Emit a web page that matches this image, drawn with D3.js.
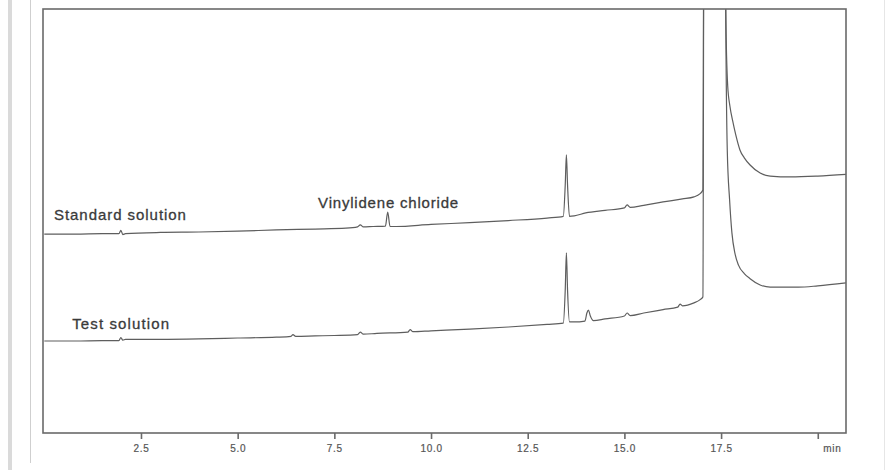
<!DOCTYPE html>
<html>
<head>
<meta charset="utf-8">
<script src="https://cdn.jsdelivr.net/npm/d3@7"></script>
<style>
  html, body { margin: 0; padding: 0; background: #fff; }
  #chart { width: 887px; height: 470px; }
  svg { display: block; }
  .trace { fill: none; stroke: #5e5e5e; stroke-width: 1.2; stroke-linejoin: round; }
  .frame { fill: none; stroke: #6a6a6a; stroke-width: 1.6; }
  .label { font-family: "Liberation Sans", Arial, Helvetica, sans-serif; font-size: 15px; fill: #3a3a3a; stroke: #3a3a3a; stroke-width: 0.3; }
  .axis text { font-family: "Liberation Sans", Arial, Helvetica, sans-serif; font-size: 10px; fill: #555; stroke: #555; stroke-width: 0.2; letter-spacing: 0.7px; }
  .axis line { stroke: #6a6a6a; stroke-width: 1.6; }
</style>
</head>
<body>
<div id="chart"></div>
<script>
// Chromatogram: standard vs test solution (time in min, detector signal in arbitrary units)

var tickValues = [2.5, 5.0, 7.5, 10.0, 12.5, 15.0, 17.5, 20.0];

var standardTime = [0, 0.8, 1.5, 1.93, 1.98, 2.03, 2.1, 3.0, 4.0, 5.0, 6.0, 7.0, 7.8, 8.1, 8.17, 8.25,
    8.5, 8.82, 8.88, 8.94, 9.1, 10.0, 11.0, 12.0, 13.0, 13.42, 13.47, 13.5, 13.53, 13.58, 13.7,
    14.0, 14.5, 15.0, 15.07, 15.15, 15.5, 16.0, 16.5, 16.8, 16.95, 17.03, 17.06, 17.6, 17.62,
    17.67, 17.73, 17.8, 17.88, 17.99, 18.1, 18.25, 18.51, 18.77, 19.3, 20.0, 20.73];
var standardSignal = [46.9, 46.9, 47.0, 47.0, 47.8, 46.8, 47.0, 47.3, 47.4, 47.6, 47.9, 48.1, 48.3, 48.6, 49.1, 48.6,
    48.7, 48.8, 52.1, 48.7, 48.7, 49.2, 49.6, 50.1, 50.7, 51.1, 58.5, 65.6, 58.5, 51.1, 51.2,
    51.9, 52.5, 53.1, 53.8, 53.2, 53.7, 54.5, 55.2, 55.7, 56.4, 57.3, 140, 140, 100,
    82.0, 77.0, 73.6, 70.3, 66.7, 64.9, 63.2, 61.3, 60.6, 60.4, 60.6, 61.0];

var testTime = [0, 0.8, 1.5, 1.93, 1.98, 2.03, 2.1, 3.0, 4.0, 5.0, 6.0, 6.38, 6.43, 6.5, 7.0, 7.5,
    8.1, 8.17, 8.25, 8.6, 9.4, 9.46, 9.53, 10.0, 11.0, 12.0, 13.0, 13.42, 13.47, 13.5, 13.53,
    13.58, 13.7, 13.98, 14.03, 14.07, 14.12, 14.2, 14.5, 15.0, 15.07, 15.15, 15.5, 16.0, 16.38,
    16.44, 16.5, 16.8, 16.95, 17.03, 17.06, 17.6, 17.62, 17.66, 17.72, 17.78, 17.86, 17.95,
    18.1, 18.25, 18.51, 18.77, 19.5, 20.0, 20.73];
var testSignal = [21.7, 21.7, 21.8, 21.8, 22.5, 21.9, 22.1, 22.1, 22.2, 22.4, 22.6, 22.8, 23.2, 22.8, 22.9, 23.0,
    23.2, 23.8, 23.3, 23.5, 23.8, 24.4, 23.9, 24.1, 24.5, 25.0, 25.6, 25.9, 33.7, 42.5, 33.7,
    26.2, 26.2, 26.4, 28.3, 29.0, 27.6, 26.5, 26.9, 27.6, 28.3, 27.7, 28.3, 29.1, 29.7,
    30.4, 30.0, 30.7, 31.4, 32.1, 140, 140, 100, 66.7, 55.0, 47.2, 42.3, 39.6,
    37.6, 36.4, 34.9, 34.4, 34.4, 34.7, 35.4];

var labels = [
    { text: 'Standard solution', t: 0.25, v: 50.3, len: 132 },
    { text: 'Vinylidene chloride', t: 7.08, v: 53.0, len: 140 },
    { text: 'Test solution', t: 0.72, v: 24.6, len: 97 }
];

(function() {
    'use strict';

    var width = 887, height = 470;
    var frame = { left: 43, top: 9, right: 846, bottom: 433 };

    var svg = d3.select('#chart').append('svg')
        .attr('width', width)
        .attr('height', height);

    // Page decorations (scan margin)
    svg.append('rect').attr('x', 8).attr('y', 0).attr('width', 4).attr('height', height).attr('fill', '#dadada');
    svg.append('line').attr('x1', 30.5).attr('x2', 30.5).attr('y1', 0).attr('y2', 463)
        .attr('stroke', '#cfcfcf').attr('stroke-width', 1);
    svg.append('line').attr('x1', 884.5).attr('x2', 884.5).attr('y1', 0).attr('y2', height)
        .attr('stroke', '#e6e6e6').attr('stroke-width', 1);

    var x = d3.scaleLinear().domain([0, 20.73]).range([frame.left + 1.3, frame.right]);
    var y = d3.scaleLinear().domain([0, 100]).range([frame.bottom, frame.top]);

    svg.append('clipPath').attr('id', 'plot-clip')
        .append('rect')
        .attr('x', frame.left).attr('y', frame.top)
        .attr('width', frame.right - frame.left).attr('height', frame.bottom - frame.top);

    var line = d3.line()
        .x(function(d) { return x(d[0]); })
        .y(function(d) { return y(d[1]); })
        .curve(d3.curveMonotoneX);

    var traces = [
        d3.zip(standardTime, standardSignal),
        d3.zip(testTime, testSignal)
    ];

    svg.append('g')
        .attr('clip-path', 'url(#plot-clip)')
        .selectAll('path')
        .data(traces)
        .join('path')
        .attr('class', 'trace')
        .attr('d', line);

    // Axis (ticks only, frame drawn separately)
    var axis = svg.append('g')
        .attr('class', 'axis')
        .attr('transform', 'translate(0,' + frame.bottom + ')')
        .call(d3.axisBottom(x)
            .tickValues(tickValues)
            .tickSize(6)
            .tickPadding(6)
            .tickFormat(function(d) { return d === 20 ? 'min' : d3.format('.1f')(d); }));
    axis.select('.domain').remove();
    axis.selectAll('.tick')
        .filter(function(d) { return d === 20; })
        .select('text')
        .attr('text-anchor', 'start')
        .attr('dx', 5);

    svg.append('rect')
        .attr('class', 'frame')
        .attr('x', frame.left).attr('y', frame.top)
        .attr('width', frame.right - frame.left).attr('height', frame.bottom - frame.top);

    // Labels
    svg.append('g')
        .selectAll('text')
        .data(labels)
        .join('text')
        .attr('class', 'label')
        .attr('x', function(d) { return x(d.t); })
        .attr('y', function(d) { return y(d.v); })
        .attr('textLength', function(d) { return d.len; })
        .attr('lengthAdjust', 'spacing')
        .text(function(d) { return d.text; });
})();
</script>
</body>
</html>
